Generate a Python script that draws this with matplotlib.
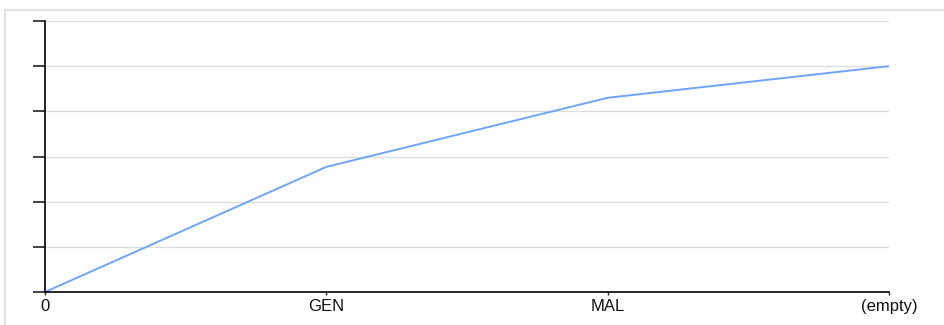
import matplotlib.pyplot as plt
from matplotlib.patches import Rectangle

# cumulative values per category
categories = ['0', 'GEN', 'MAL', '(empty)']
values = [0.0, 2.77, 4.3, 5.0]
y_ticks = [0, 1, 2, 3, 4, 5, 6]

plt.rcParams['font.family'] = ['Liberation Sans', 'DejaVu Sans']

W, H = 945, 325
fig = plt.figure(figsize=(W / 100, H / 100), dpi=100)
fig.patch.set_facecolor('white')

# light frame around the chart area
fig.patches.append(Rectangle((5 / W, -0.05), 1.2, 1 - 10 / H + 0.05,
                             transform=fig.transFigure, fill=False,
                             edgecolor='#e3e3e3', linewidth=1.6))

ax = fig.add_axes([45 / W, (H - 292) / H, (889 - 45) / W, (292 - 21) / H])
x = list(range(len(categories)))
ax.plot(x, values, color='#6fa5f7', linewidth=1.4, solid_capstyle='round')

ax.set_xlim(0, len(categories) - 1)
ax.set_ylim(y_ticks[0], y_ticks[-1])
ax.set_yticks(y_ticks)
ax.set_yticklabels([])
ax.set_xticks(x)
ax.set_xticklabels(categories, fontsize=12, color='#111111')

ax.grid(axis='y', color='#dcdcdc', linewidth=1)
ax.set_axisbelow(True)
for side in ['top', 'right']:
    ax.spines[side].set_visible(False)
ax.spines['left'].set_linewidth(1.2)
ax.spines['bottom'].set_linewidth(1.2)
ax.tick_params(axis='y', length=9, width=1.2, color='#222222')
ax.tick_params(axis='x', length=2.5, width=1, pad=2.5, color='#222222')

fig.savefig('out.png', dpi=100)
